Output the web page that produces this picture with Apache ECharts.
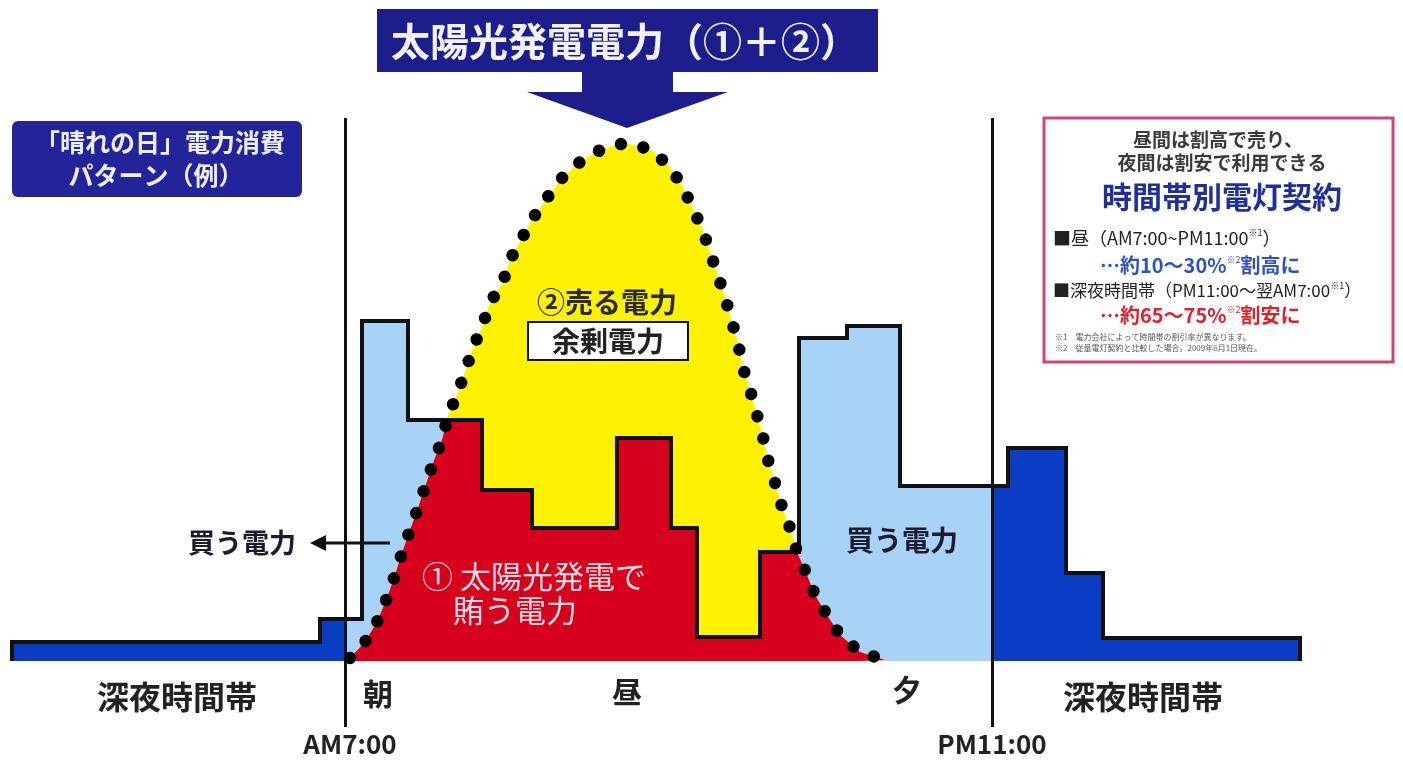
<!DOCTYPE html>
<html>
<head>
<meta charset="utf-8">
<title>晴れの日 電力消費パターン</title>
<script src="https://cdn.jsdelivr.net/npm/echarts@6/dist/echarts.min.js"></script>
<style>
    html, body {margin:0; padding:0; background:#fff; overflow:hidden;}
    #main {width:1403px; height:760px;}
</style>
</head>
<body>
<div id="main"></div>
<script>
// 消費電力（階段状）: 区間の始まり / 終わり / 高さ
var stepStart = [12, 320, 362, 408, 482, 532, 617, 671, 697, 760, 799, 847, 900, 1008, 1066, 1103];
var stepEnd   = [320, 362, 408, 482, 532, 617, 671, 697, 760, 799, 847, 900, 1008, 1066, 1103, 1300];
var usage     = [19, 42, 340, 241, 171, 133, 223, 133, 24, 109, 323, 335, 175, 213, 88, 23];

// 太陽光発電電力（点線の山）
var solarX = [350, 365, 377, 387, 395, 402, 410, 418, 425, 433, 442, 448, 457, 465, 473, 482, 490, 503, 510, 522,
              533, 547, 562, 580, 602, 625, 650, 668, 682, 692, 702, 710, 717, 725, 732, 738, 743, 750, 757, 763,
              768, 775, 782, 790, 797, 807, 815, 827, 840, 860, 885];
var solarY = [3, 19, 39, 63, 86, 108, 131, 153, 174, 198, 221, 245, 266, 289, 313, 334, 358, 379, 401, 423,
              443, 463, 483, 499, 512, 518, 512, 496, 476, 454, 433, 409, 388, 364, 339, 318, 293, 271, 246, 224,
              201, 178, 154, 133, 109, 86, 66, 46, 26, 9, 1];

// 時間帯の区切り AM7:00 / PM11:00
var dividerX = [345, 992];
var dividerText = ['AM7:00', 'PM11:00'];

var FONT = '"Noto Sans CJK JP", "Noto Sans", sans-serif';

function stepLine(from, to) {
    var pts = [];
    for (var i = 0; i < usage.length; i++) {
        var a = Math.max(stepStart[i], from), b = Math.min(stepEnd[i], to);
        if (b <= a) continue;
        pts.push([a, usage[i]], [b, usage[i]]);
    }
    return pts;
}
function solarAt(x) {
    for (var i = 1; i < solarX.length; i++) {
        if (x <= solarX[i]) {
            var t = (x - solarX[i - 1]) / (solarX[i] - solarX[i - 1]);
            return solarY[i - 1] + t * (solarY[i] - solarY[i - 1]);
        }
    }
    return solarY[solarY.length - 1];
}
function usageAt(x) {
    for (var i = 0; i < usage.length; i++) {
        if (x >= stepStart[i] && x < stepEnd[i]) return usage[i];
    }
    return 0;
}
// ①太陽光発電で賄う電力 = 消費と発電の小さい方
function coveredLine() {
    var x0 = solarX[0], x1 = solarX[solarX.length - 1];
    var xs = solarX.slice();
    stepStart.concat(stepEnd).forEach(function (x) { if (x > x0 && x < x1) xs.push(x); });
    xs.sort(function (a, b) { return a - b; });
    var pts = [[x0, 0]];
    for (var i = 0; i < xs.length - 1; i++) {
        var a = xs[i], b = xs[i + 1];
        if (b <= a) continue;
        var c = usageAt((a + b) / 2), sa = solarAt(a), sb = solarAt(b);
        pts.push([a, Math.min(sa, c)]);
        if ((sa - c) * (sb - c) < 0) {
            pts.push([a + (c - sa) / (sb - sa) * (b - a), c]);
        }
        pts.push([b, Math.min(sb, c)]);
    }
    pts.push([x1, 0]);
    return pts;
}
var solarData = solarX.map(function (x, i) { return [x, solarY[i]]; });

function areaSeries(data, color, z) {
    return {
        type: 'line', data: data, z: z, symbol: 'none', silent: true,
        lineStyle: {width: 0, opacity: 0},
        areaStyle: {color: color, opacity: 1}
    };
}
function txt(x, y, text, size, color, align, weight) {
    return {
        type: 'text', x: x, y: y, z: 100,
        style: {
            text: text, fill: color,
            font: (weight || 'bold') + ' ' + size + 'px ' + FONT,
            textAlign: align || 'center', textVerticalAlign: 'middle',
            align: align || 'center', verticalAlign: 'middle'
        }
    };
}
function richTxt(x, y, text, size, color) {
    return {
        type: 'text', x: x, y: y, z: 100,
        style: {
            text: text, fill: color,
            font: size + 'px ' + FONT,
            textAlign: 'left', textVerticalAlign: 'middle',
            align: 'left', verticalAlign: 'middle',
            rich: {
                s: {fontSize: 9, fontFamily: FONT, fill: color, padding: [0, 0, 10, 0]},
                b: {fontSize: size, fontFamily: FONT, fontWeight: 'bold', fill: color}
            }
        }
    };
}

var myChart = echarts.init(document.getElementById('main'));

var option = {
    animation: false,
    backgroundColor: '#ffffff',
    grid: {left: 0, right: 0, top: 0, bottom: 0},
    xAxis: {type: 'value', min: 0, max: 1403, show: false},
    yAxis: {type: 'value', min: -99, max: 661, show: false},
    series: [
        areaSeries(stepLine(stepStart[0], dividerX[0]), '#0a3cc4', 2),
        areaSeries(stepLine(dividerX[0], dividerX[1]), '#a9d3f6', 2),
        areaSeries(stepLine(dividerX[1], stepEnd[stepEnd.length - 1]), '#0a3cc4', 2),
        areaSeries(solarData, '#fff200', 3),
        areaSeries(coveredLine(), '#d7001d', 4),
        {
            // 消費電力の輪郭
            type: 'line', z: 5, symbol: 'none', silent: true,
            data: [[stepStart[0], 0]].concat(stepLine(stepStart[0], stepEnd[stepEnd.length - 1]))
                .concat([[stepEnd[stepEnd.length - 1], 0]]),
            lineStyle: {color: '#111', width: 4, join: 'miter'}
        },
        {
            type: 'line', z: 6, data: [], silent: true,
            markLine: {
                symbol: 'none', silent: true, animation: false,
                label: {show: false},
                lineStyle: {color: '#111', width: 3, type: 'solid'},
                data: dividerX.map(function (x) {
                    return [{coord: [x, 543]}, {coord: [x, -66]}];
                })
            }
        },
        {
            // 太陽光発電（点線）
            type: 'line', z: 7, symbol: 'none', silent: true,
            data: solarData,
            lineStyle: {color: '#000', width: 12.5, type: [0.01, 23], cap: 'round'}
        }
    ],
    graphic: [
        // タイトルと矢印
        {type: 'rect', z: 90, shape: {x: 377, y: 9, width: 501, height: 63}, style: {fill: '#1d1d8c'}},
        {type: 'polygon', z: 90, shape: {points: [[582, 71], [673, 71], [673, 92], [728, 92], [627, 128], [527, 92], [582, 92]]},
            style: {fill: '#1d1d8c'}},
        txt(625, 41, '太陽光発電電力（①＋②）', 39, '#f2f2ff', 'center', 'bold'),

        // 左上ラベル
        {type: 'rect', z: 90, shape: {x: 12, y: 121, width: 290, height: 76, r: 6}, style: {fill: '#24249a'}},
        txt(160, 142, '「晴れの日」電力消費', 25, '#eef0ff'),
        txt(156, 175, 'パターン（例）', 25, '#eef0ff'),

        // 右上の説明枠
        {type: 'rect', z: 90, shape: {x: 1044, y: 118, width: 349, height: 244},
            style: {fill: '#fff', stroke: '#cf437c', lineWidth: 3}},
        txt(1218, 140, '昼間は割高で売り、', 19, '#3a3a3a'),
        txt(1222, 163, '夜間は割安で利用できる', 19, '#3a3a3a'),
        txt(1222, 197, '時間帯別電灯契約', 30, '#1f2fa0'),
        richTxt(1053, 238, '■昼（AM7:00~PM11:00{s|※1}）', 18, '#222'),
        richTxt(1100, 265, '{b|…約10～30%}{s|※2}{b|割高に}', 20, '#3150c4'),
        richTxt(1053, 291, '■深夜時間帯（PM11:00～翌AM7:00{s|※1}）', 17, '#222'),
        richTxt(1100, 315, '{b|…約65～75%}{s|※2}{b|割安に}', 20, '#e0202c'),
        txt(1055, 337, '※1　電力会社によって時間帯の割引率が異なります。', 8, '#555', 'left', 'normal'),
        txt(1055, 348, '※2　従量電灯契約と比較した場合。2009年6月1日現在。', 8, '#555', 'left', 'normal'),

        // 売る電力
        txt(607, 302, '②売る電力', 28, '#2a2a2a'),
        {type: 'rect', z: 90, shape: {x: 528, y: 322, width: 160, height: 38},
            style: {fill: '#fff', stroke: '#111', lineWidth: 2}},
        txt(608, 341, '余剰電力', 28, '#222'),

        // 賄う電力
        txt(534, 576, '① 太陽光発電で', 31, '#f7dde3', 'center', 'normal'),
        txt(515, 610, '賄う電力', 31, '#f7dde3', 'center', 'normal'),

        // 買う電力
        txt(902, 540, '買う電力', 28, '#1c1c30'),
        txt(242, 543, '買う電力', 27, '#1c1c30'),
        {type: 'line', z: 95, shape: {x1: 322, y1: 543, x2: 390, y2: 543}, style: {stroke: '#111', lineWidth: 3}},
        {type: 'polygon', z: 95, shape: {points: [[310, 543], [326, 535], [326, 551]]}, style: {fill: '#111'}},

        // 時間帯
        txt(177, 697, '深夜時間帯', 32, '#222'),
        txt(378, 694, '朝', 30, '#222'),
        txt(627, 692, '昼', 30, '#222'),
        txt(907, 690, '夕', 30, '#222'),
        txt(1143, 697, '深夜時間帯', 32, '#222'),
        txt(dividerX[0] + 5, 744, dividerText[0], 26, '#222'),
        txt(dividerX[1], 744, dividerText[1], 26, '#222')
    ]
};

myChart.setOption(option);
</script>
</body>
</html>
